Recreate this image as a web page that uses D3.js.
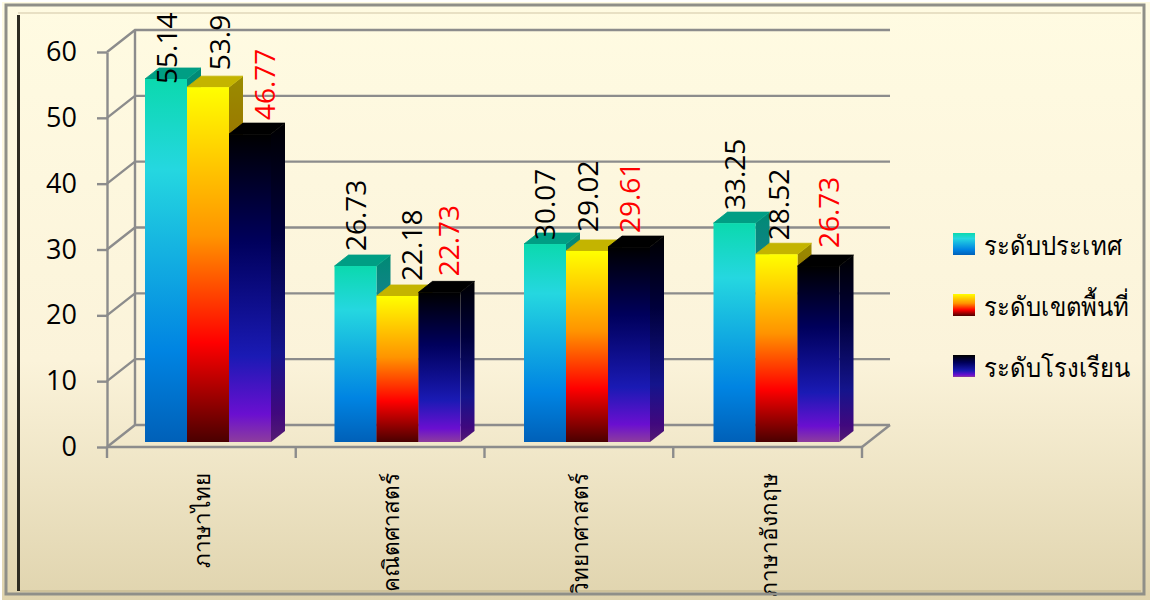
<!DOCTYPE html>
<html><head><meta charset="utf-8">
<style>html,body{margin:0;padding:0;background:#fff}svg{display:block}</style>
<script src="https://cdn.jsdelivr.net/npm/d3@7/dist/d3.min.js"></script>
</head><body><svg id="c" width="1152" height="602"></svg>
<script>
const categories=["ภาษาไทย","คณิตศาสตร์","วิทยาศาสตร์","ภาษาอังกฤษ"];
const seriesNames=["ระดับประเทศ","ระดับเขตพื้นที่","ระดับโรงเรียน"];
const national=[55.14,26.73,30.07,33.25];
const district=[53.9,22.18,29.02,28.52];
const school=[46.77,22.73,29.61,26.73];
const tickValues=[0,10,20,30,40,50,60];
const seriesValues=[national,district,school];
const labelColors=["#000","#000","#f00"];

const latin='"Open Sans",sans-serif', thai='"Liberation Serif","Noto Sans",serif';
const svg=d3.select("#c"), defs=svg.append("defs");
const grad=(id,stops,x2=0,y2=1)=>{const g=defs.append("linearGradient").attr("id",id).attr("x1",0).attr("y1",0).attr("x2",x2).attr("y2",y2);
 stops.forEach(s=>g.append("stop").attr("offset",s[0]).attr("stop-color",s[1]));};
grad("bg",[[0,"#fffbe2"],[0.6,"#fbf3da"],[1,"#e0d4ae"]]);
const faces=[
 [[0,"#0bd9ae"],[.25,"#25d7e0"],[.75,"#0084e2"],[1,"#0060b8"]],
 [[0,"#ffff00"],[.42,"#ff9400"],[.72,"#ff0000"],[1,"#4a0000"]],
 [[0,"#000000"],[.35,"#00005c"],[.72,"#1a1ab4"],[.91,"#6a0fd0"],[1,"#8d3d9d"]]];
const sides=[
 [[0,"#008a74"],[.25,"#14828c"],[.75,"#004e8a"],[1,"#003a70"]],
 [[0,"#9a8c00"],[.42,"#9a5a00"],[.72,"#900000"],[1,"#2c0000"]],
 [[0,"#000000"],[.35,"#00003c"],[.72,"#14148c"],[.91,"#40087e"],[1,"#541c72"]]];
const tops=["#009e84","#c4b400","#000000"];
faces.forEach((s,i)=>grad("f"+i,s));sides.forEach((s,i)=>grad("s"+i,s));
defs.append("clipPath").attr("id","inner").append("rect").attr("x",0).attr("y",0).attr("width",1152).attr("height",596);

// scales: front plane of the chart box
const xBand=d3.scaleBand().domain(d3.range(categories.length)).range([107,862]);
const barBand=d3.scaleBand().domain(d3.range(categories.length)).range([107,865]);
const y=d3.scaleLinear().domain([0,60]).range([447,52]);
const boxDx=28, boxDy=-22, barDx=14, barDy=-11, grey="#8c8c8c";
const inner=d3.scaleBand().domain([0,1,2]).range([38,164]);
const barBase=v=>y(v)-5;

// frame
const rect=(x,y,w,h,a)=>{const r=svg.append("rect").attr("x",x).attr("y",y).attr("width",w).attr("height",h);Object.entries(a).forEach(([k,v])=>r.attr(k,v));return r;};
rect(2,2,1148,598,{fill:"url(#bg)"});
svg.append("path").attr("d","M18 13H1141").attr("stroke","#e8e0c4").attr("stroke-width",2);
svg.append("path").attr("d","M20 591H1141").attr("stroke","#cfc29a").attr("stroke-width",2);
svg.append("path").attr("d","M18.5 15V591").attr("stroke","#2e2c22").attr("stroke-width",3);

const g=svg.append("g").attr("fill","none").attr("stroke",grey).attr("stroke-width",2.4);
tickValues.forEach(t=>{
  g.append("path").attr("d",`M${107} ${y(t)}L${107+boxDx} ${y(t)+boxDy}H${862+boxDx}`);
});
g.append("path").attr("d",`M${107+boxDx} ${y(0)+boxDy}V${y(60)+boxDy}`);
g.append("path").attr("d",`M${862} ${y(0)}L${862+boxDx} ${y(0)+boxDy}`);

// y axis
const yAxis=svg.append("g").attr("transform","translate(107,0)")
  .call(d3.axisLeft(y).tickValues(tickValues).tickSize(10).tickPadding(20).tickSizeOuter(0));
yAxis.select(".domain").attr("stroke",grey).attr("stroke-width",2.4);
yAxis.selectAll("line").attr("stroke",grey).attr("stroke-width",2.4);
yAxis.selectAll("text").attr("font-family",latin).attr("font-size",27).attr("fill","#000");

// x axis
const xG=svg.append("g").attr("transform",`translate(0,${y(0)})`);
xG.append("path").attr("d",`M107 0H862`).attr("stroke",grey).attr("stroke-width",2.4);
d3.range(categories.length+1).forEach(i=>{
  const xp=i<categories.length?xBand(i):862;
  xG.append("path").attr("d",`M${xp} 0V11`).attr("stroke",grey).attr("stroke-width",2.4);
});

// bars
categories.forEach((c,ci)=>{
  seriesValues.forEach((vals,si)=>{
    const v=vals[ci], x0=barBand(ci)+inner(si), w=inner.bandwidth(), yt=barBase(v), yb=barBase(0);
    const b=svg.append("g");
    b.append("path").attr("d",`M${x0+w} ${yt}L${x0+w+barDx} ${yt+barDy}V${yb+barDy}L${x0+w} ${yb}Z`).attr("fill",`url(#s${si})`);
    b.append("path").attr("d",`M${x0} ${yt}L${x0+barDx} ${yt+barDy}H${x0+w+barDx}L${x0+w} ${yt}Z`).attr("fill",tops[si]).attr("stroke",tops[si]).attr("stroke-width",0.8);
    b.append("rect").attr("x",x0).attr("y",yt).attr("width",w).attr("height",yb-yt).attr("fill",`url(#f${si})`);
  });
});

// value labels (hand placed in the source, so a few sit off the usual spot)
const labelGap=[[-5,17,14],[15,15,16],[4,19,14],[13,14,18]];
const labelShift=[[-6,5,8],[-7,7,2],[-7,-6,-6],[-7,-5,3]];
categories.forEach((c,ci)=>{
  seriesValues.forEach((vals,si)=>{
    const v=vals[ci], xc=barBand(ci)+inner(si)+inner.bandwidth()/2+barDx/2+labelShift[ci][si]+10, yy=barBase(v)-labelGap[ci][si];
    svg.append("text").attr("transform",`translate(${xc},${yy}) rotate(-90)`)
      .attr("font-family",latin).attr("font-size",28).attr("fill",labelColors[si]).text(String(v));
  });
});

// category labels
const catG=svg.append("g").attr("clip-path","url(#inner)");
categories.forEach((c,ci)=>{
  const xc=xBand(ci)+xBand.bandwidth()/2+9;
  catG.append("text").attr("transform",`translate(${xc},473) rotate(-90)`).attr("text-anchor","end")
    .attr("font-family",thai).attr("font-size",22.5).attr("fill","#000").text(c);
});

// outer frame, above the clipped labels
rect(6,5,1138,589,{fill:"none",stroke:"#8f8f88","stroke-width":3});

// legend
const legY=d3.scalePoint().domain(d3.range(3)).range([244,366]);
seriesNames.forEach((n,i)=>{
  svg.append("rect").attr("x",953).attr("y",legY(i)-11).attr("width",22).attr("height",22).attr("fill",`url(#f${i})`);
  svg.append("text").attr("transform",`translate(984,${legY(i)+11}) scale(0.885,1)`).attr("font-family",thai).attr("font-size",27).attr("fill","#000").text(n);
});
</script></body></html>
